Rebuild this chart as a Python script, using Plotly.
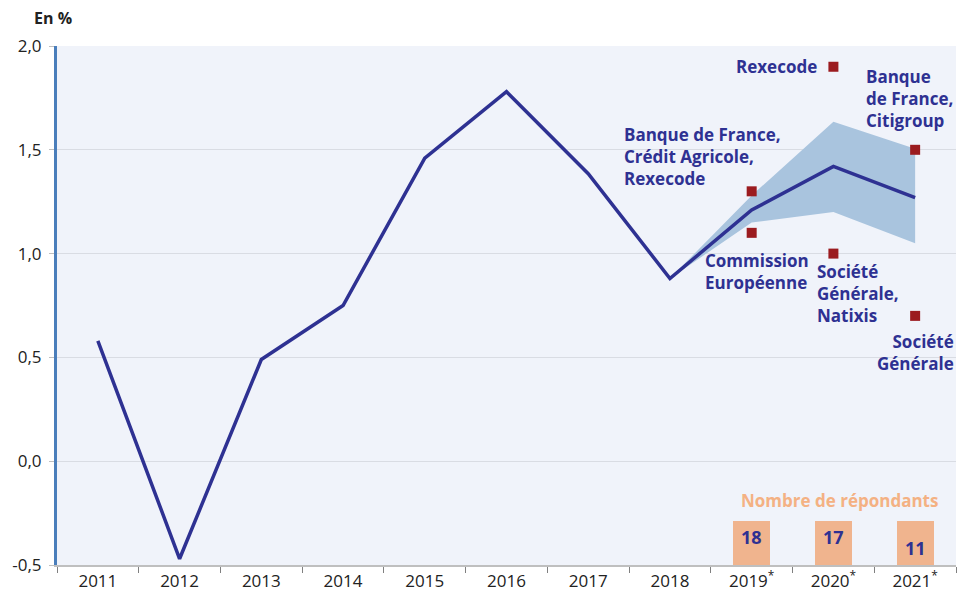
import plotly.graph_objects as go

years = ["2011", "2012", "2013", "2014", "2015", "2016", "2017", "2018", "2019", "2020", "2021"]
year_labels = ["2011", "2012", "2013", "2014", "2015", "2016", "2017", "2018",
               "2019<sup>*</sup>", "2020<sup>*</sup>", "2021<sup>*</sup>"]
growth = [0.58, -0.47, 0.49, 0.75, 1.46, 1.78, 1.385, 0.88, 1.21, 1.42, 1.27]

band_years = ["2018", "2019", "2020", "2021"]
band_high = [0.88, 1.28, 1.635, 1.505]
band_low = [0.88, 1.15, 1.20, 1.05]

point_years = ["2019", "2019", "2020", "2020", "2021", "2021"]
point_values = [1.30, 1.10, 1.90, 1.00, 1.50, 0.70]

resp_years = ["2019", "2020", "2021"]
resp_counts = ["18", "17", "11"]

y_ticks = [-0.5, 0.0, 0.5, 1.0, 1.5, 2.0]
y_ticktext = ["-0,5", "0,0", "0,5", "1,0", "1,5", "2,0"]

NAVY = "#2E3192"
RED = "#9B1B1F"
ORANGE = "#F0B48E"
FONT = "Open Sans"

def idx(y):
    return years.index(y)

fig = go.Figure()

fig.add_trace(go.Scatter(x=band_years, y=band_high, mode="lines", line=dict(width=0),
                         hoverinfo="skip", showlegend=False))
fig.add_trace(go.Scatter(x=band_years, y=band_low, mode="lines", line=dict(width=0),
                         fill="tonexty", fillcolor="#A9C4DE", hoverinfo="skip", showlegend=False))

fig.add_trace(go.Bar(x=resp_years, y=[0.21] * 3, base=-0.5, width=0.45,
                     marker=dict(color=ORANGE, line=dict(width=0)), showlegend=False,
                     hoverinfo="skip"))

fig.add_trace(go.Scatter(x=years, y=growth, mode="lines",
                         line=dict(color=NAVY, width=3.5), showlegend=False))

fig.add_trace(go.Scatter(x=point_years, y=point_values, mode="markers",
                         marker=dict(symbol="square", size=10, color=RED), showlegend=False))

ann_font = dict(family=FONT, size=17, color=NAVY, weight=700)

def lab(text, yr, y, xanchor, yanchor, xshift):
    fig.add_annotation(text=text, x=idx(yr), y=y, xref="x", yref="y", showarrow=False,
                       xanchor=xanchor, yanchor=yanchor, xshift=xshift, align=xanchor,
                       font=ann_font)

lab("Rexecode", "2020", 1.90, "right", "middle", -14)
lab("Banque<br>de France,<br>Citigroup", "2020", 1.92, "left", "top", 31)
lab("Banque de France,<br>Crédit Agricole,<br>Rexecode", "2018", 1.64, "left", "top", -48)
lab("Commission<br>Européenne", "2019", 1.03, "left", "top", -49)
lab("Société<br>Générale,<br>Natixis", "2020", 0.98, "left", "top", -18)
lab("Société<br>Générale", "2021", 0.64, "right", "top", 41)

fig.add_annotation(text="Nombre de répondants", x=idx("2020"), y=-0.19, xref="x", yref="y",
                   showarrow=False, xanchor="center", yanchor="middle", xshift=6,
                   font=dict(family=FONT, size=17, color="#F4B183", weight=700))
for yr, n, yy in zip(resp_years, resp_counts, [-0.365, -0.365, -0.42]):
    fig.add_annotation(text=n, x=idx(yr), y=yy, xref="x", yref="y", showarrow=False,
                       font=dict(family=FONT, size=18, color=NAVY, weight=700))

fig.add_annotation(text="En %", x=-0.004, y=1.054, xref="paper", yref="paper", showarrow=False,
                   xanchor="center", yanchor="middle",
                   font=dict(family=FONT, size=16, color="#222222", weight=700))

fig.update_layout(
    width=957, height=593,
    margin=dict(l=57, r=1, t=46, b=28),
    paper_bgcolor="white",
    plot_bgcolor="#F0F3FA",
    bargap=0,
    font=dict(family=FONT, size=17, color="#222222"),
    xaxis=dict(
        type="category", categoryorder="array", categoryarray=years,
        tickvals=years, ticktext=year_labels,
        range=[-0.5, 10.5], showgrid=False,
        showline=True, linecolor="#BFBFBF", linewidth=1.5,
        ticks="outside", tickson="boundaries", ticklen=6, tickcolor="#808080",
        tickfont=dict(family=FONT, size=17, color="#222222"),
        fixedrange=True,
    ),
    yaxis=dict(
        range=[-0.5, 2.0], tickvals=y_ticks, ticktext=y_ticktext,
        showgrid=True, gridcolor="#D9DCE3", gridwidth=1, zeroline=False,
        showline=True, linecolor="#4A7EBB", linewidth=3,
        ticks="outside", ticklen=5, tickcolor="#BFBFBF",
        tickfont=dict(family=FONT, size=17, color="#222222"),
        ticklabelstandoff=4,
    ),
)

fig.write_html("out.html")
